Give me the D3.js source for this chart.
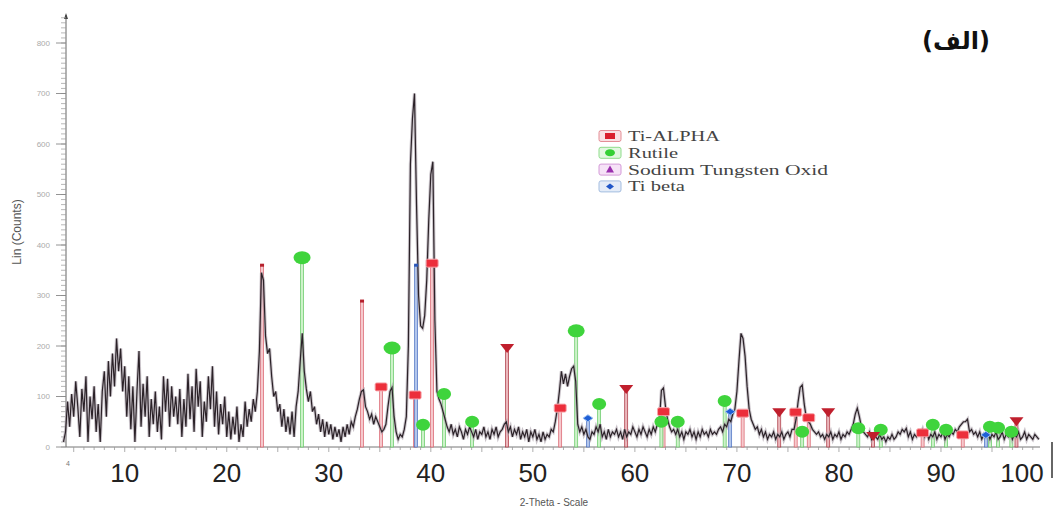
<!DOCTYPE html>
<html>
<head>
<meta charset="utf-8">
<script src="https://cdn.jsdelivr.net/npm/d3@7"></script>
<style>
  body { margin: 0; background: #fff; }
  svg { display: block; }
</style>
</head>
<body>
<svg id="chart"></svg>
<script>
// --- data ---
const startAngle = 4;    // 2-theta of first count
const stepAngle = 0.2;   // step between counts

// each row = 2 degrees (10 points), first angle noted on the right
const counts = [
  10, 30, 90, 40, 105, 60, 130, 80, 20, 115,      // 4
  70, 140, 10, 100, 55, 120, 30, 85, 10, 110,     // 6
  150, 60, 170, 100, 185, 120, 215, 150, 195, 110,// 8
  160, 60, 140, 35, 120, 10, 110, 190, 40, 125,   // 10
  60, 140, 20, 95, 45, 110, 30, 80, 15, 140,      // 12
  70, 135, 40, 120, 60, 100, 45, 115, 20, 95,     // 14
  40, 145, 55, 120, 30, 155, 80, 130, 20, 90,     // 16
  50, 140, 75, 160, 40, 110, 25, 85, 45, 100,     // 18
  20, 70, 15, 60, 25, 80, 10, 45, 20, 90,         // 20
  40, 75, 50, 95, 70, 110, 190, 345, 330, 220,    // 22
  185, 195, 140, 100, 110, 70, 85, 40, 75, 30,    // 24
  60, 25, 70, 20, 80, 110, 170, 225, 150, 115,    // 26
  90, 110, 70, 80, 45, 65, 30, 55, 20, 50,        // 28
  25, 45, 15, 40, 20, 35, 10, 40, 20, 45,         // 30
  25, 50, 40, 60, 75, 95, 110, 113, 80, 70,       // 32
  55, 65, 45, 60, 50, 40, 30, 35, 45, 80,         // 34
  110, 118, 60, 30, 15, 25, 20, 35, 60, 200,      // 36
  560, 650, 700, 480, 300, 240, 235, 260, 330, 450,// 38
  540, 565, 250, 110, 95, 85, 70, 55, 40, 30,     // 40
  45, 25, 35, 20, 40, 30, 15, 35, 25, 40,         // 42
  30, 20, 35, 15, 30, 25, 40, 20, 30, 15,         // 44
  35, 25, 40, 20, 30, 35, 45, 50, 30, 40,         // 46
  20, 35, 25, 40, 15, 30, 20, 35, 10, 30,         // 48
  20, 35, 15, 25, 10, 30, 15, 25, 20, 35,         // 50
  30, 50, 75, 110, 150, 125, 145, 120, 140, 155,  // 52
  160, 130, 45, 30, 40, 25, 35, 20, 15, 30,       // 54
  25, 40, 30, 45, 20, 30, 15, 35, 20, 30,         // 56
  25, 35, 20, 30, 15, 35, 20, 30, 25, 40,         // 58
  30, 20, 35, 25, 40, 30, 20, 35, 25, 40,         // 60
  30, 45, 50, 112, 117, 80, 55, 40, 30, 35,       // 62
  25, 35, 20, 30, 15, 30, 25, 35, 20, 30,         // 64
  15, 30, 20, 35, 25, 30, 20, 35, 25, 30,         // 66
  25, 35, 40, 30, 45, 40, 55, 50, 65, 75,         // 68
  110, 170, 225, 215, 180, 120, 75, 55, 45, 35,   // 70
  40, 25, 35, 20, 30, 15, 25, 20, 30, 15,         // 72
  25, 20, 30, 15, 25, 30, 20, 35, 35, 55,         // 74
  90, 118, 123, 85, 58, 50, 45, 35, 30, 25,       // 76
  30, 20, 25, 15, 25, 20, 30, 15, 25, 20,         // 78
  30, 15, 25, 20, 30, 25, 35, 45, 65, 77,         // 80
  60, 40, 30, 25, 20, 30, 15, 25, 20, 15,         // 82
  25, 15, 20, 10, 20, 15, 25, 15, 20, 30,         // 84
  25, 35, 30, 37, 20, 30, 15, 25, 20, 30,         // 86
  25, 35, 20, 30, 15, 25, 20, 30, 15, 25,         // 88
  20, 30, 15, 25, 20, 30, 25, 35, 30, 40,         // 90
  45, 50, 50, 55, 30, 35, 25, 30, 20, 30,         // 92
  15, 25, 20, 30, 15, 25, 20, 30, 15, 20,         // 94
  30, 15, 25, 20, 30, 15, 25, 20, 30, 15,         // 96
  20, 30, 15, 25, 20, 15, 25, 20, 15              // 98
];

// reference lines: [2-theta, height]
const tiAlphaLines = [[35.13, 119], [38.46, 103], [40.13, 364], [52.68, 77], [62.81, 70],
  [70.56, 67], [75.76, 69], [77.04, 58], [88.2, 28], [92.13, 24]];
const rutileLines = [[27.38, 375], [36.2, 196], [39.24, 44], [41.3, 105], [44.05, 50],
  [54.25, 230], [56.5, 85], [62.6, 50], [64.2, 50], [68.8, 91], [76.4, 30], [81.9, 37],
  [84.1, 34], [89.2, 44], [90.5, 34], [94.8, 40], [95.6, 38], [96.9, 30]];
const sodiumLines = [[47.48, 196], [59.15, 115], [74.15, 69], [78.95, 69], [83.35, 22], [97.4, 51]];
const tiBetaLines = [[55.4, 57], [69.34, 70], [94.4, 24]];
const capLines = [[23.46, 360, "red"], [33.26, 289, "red"], [38.56, 360, "blue"]];

const yTicks = [0, 100, 200, 300, 400, 500, 600, 700, 800];
const xBigLabels = [10, 20, 30, 40, 50, 60, 70, 80, 90, 100];
const legendLabels = ["Ti-ALPHA", "Rutile", "Sodium Tungsten Oxid", "Ti beta"];

// --- setup ---
const svgWidth = 1056;
const svgHeight = 511;
const svg = d3.select("#chart")
  .attr("width", svgWidth)
  .attr("height", svgHeight);

const x = d3.scaleLinear().domain([4, 100]).range([63.5, 1043]);
const y = d3.scaleLinear().domain([0, 800]).range([447, 43]);

const profile = counts.map((c, i) => [startAngle + i * stepAngle, c]);

// y axis (with minor ticks every 10)
const yAxis = svg.append("g").attr("transform", "translate(66,0)");
yAxis.append("line")
  .attr("x1", 0).attr("x2", 0)
  .attr("y1", y(0)).attr("y2", 15)
  .attr("stroke", "#666").attr("stroke-width", 1);
yAxis.append("path")
  .attr("d", "M-2,19 L0,13 L2,19 Z")
  .attr("fill", "#444");
yAxis.selectAll(".minor")
  .data(d3.range(0, 860, 10))
  .enter().append("line")
  .attr("x1", -5).attr("x2", 0)
  .attr("y1", d => y(d)).attr("y2", d => y(d))
  .attr("stroke", "#999").attr("stroke-width", 0.7);
yAxis.selectAll(".major")
  .data(yTicks)
  .enter().append("line")
  .attr("x1", -10).attr("x2", 0)
  .attr("y1", d => y(d)).attr("y2", d => y(d))
  .attr("stroke", "#888").attr("stroke-width", 0.9);
yAxis.selectAll(".ylab")
  .data(yTicks)
  .enter().append("text")
  .attr("x", -16)
  .attr("y", d => y(d))
  .attr("dy", "0.35em")
  .attr("text-anchor", "end")
  .attr("font-family", "Liberation Sans, Arial, sans-serif")
  .attr("font-size", 8)
  .attr("fill", "#aaa")
  .text(d => d);

svg.append("text")
  .attr("transform", "translate(21,232) rotate(-90)")
  .attr("text-anchor", "middle")
  .attr("font-family", "Liberation Sans, Arial, sans-serif")
  .attr("font-size", 12)
  .attr("fill", "#555")
  .text("Lin (Counts)");

// x axis
const xAxis = svg.append("g");
xAxis.append("line")
  .attr("x1", 66).attr("x2", 1040)
  .attr("y1", y(0)).attr("y2", y(0))
  .attr("stroke", "#777").attr("stroke-width", 1);
xAxis.selectAll(".xminor")
  .data(d3.range(5, 100, 1))
  .enter().append("line")
  .attr("x1", d => x(d)).attr("x2", d => x(d))
  .attr("y1", y(0)).attr("y2", d => y(0) + (d % 5 === 0 ? 5 : 3))
  .attr("stroke", "#999").attr("stroke-width", 0.8);
svg.append("text")
  .attr("x", 68).attr("y", 466)
  .attr("text-anchor", "middle")
  .attr("font-family", "Liberation Sans, Arial, sans-serif")
  .attr("font-size", 7)
  .attr("fill", "#777")
  .text("4");
svg.selectAll(".xbig")
  .data(xBigLabels)
  .enter().append("text")
  .attr("x", d => Math.min(x(d), 1022))
  .attr("y", 482)
  .attr("text-anchor", "middle")
  .attr("font-family", "Liberation Sans, Arial, sans-serif")
  .attr("font-size", 26)
  .attr("fill", "#222")
  .text(d => d);
svg.append("text")
  .attr("x", 554).attr("y", 506)
  .attr("text-anchor", "middle")
  .attr("font-family", "Liberation Sans, Arial, sans-serif")
  .attr("font-size", 10)
  .attr("fill", "#555")
  .text("2-Theta - Scale");
svg.append("line")
  .attr("x1", 1052).attr("x2", 1052)
  .attr("y1", 442).attr("y2", 478)
  .attr("stroke", "#333").attr("stroke-width", 1.5);

// stick colours
const styles = {
  red:   { fill: "#f6c9cd", stroke: "#d9606b" },
  green: { fill: "#cdf2c9", stroke: "#62c862" },
  dark:  { fill: "#ebb7bc", stroke: "#a8323e" },
  blue:  { fill: "#b2c6ec", stroke: "#4a6fc0" }
};

function drawSticks(data, st) {
  svg.append("g").selectAll("rect")
    .data(data)
    .enter().append("rect")
    .attr("x", d => x(d[0]) - 1.5)
    .attr("y", d => y(d[1]))
    .attr("width", 3)
    .attr("height", d => y(0) - y(d[1]))
    .attr("fill", st.fill)
    .attr("stroke", st.stroke)
    .attr("stroke-width", 0.7);
}
drawSticks(tiAlphaLines, styles.red);
drawSticks(rutileLines, styles.green);
drawSticks(sodiumLines, styles.dark);
drawSticks(tiBetaLines, styles.blue);
drawSticks(capLines.filter(d => d[2] === "red"), styles.red);
drawSticks(capLines.filter(d => d[2] === "blue"), styles.blue);

// diffraction profile
const line = d3.line().x(d => x(d[0])).y(d => y(d[1]));
svg.append("path")
  .datum(profile)
  .attr("d", line)
  .attr("fill", "none")
  .attr("stroke", "#a89fa8")
  .attr("stroke-width", 3.2)
  .attr("stroke-opacity", 0.6);
svg.append("path")
  .datum(profile)
  .attr("d", line)
  .attr("fill", "none")
  .attr("stroke", "#2b2228")
  .attr("stroke-width", 1.2);

// markers on top of sticks
svg.append("g").selectAll("rect")
  .data(tiAlphaLines)
  .enter().append("rect")
  .attr("x", d => x(d[0]) - 6)
  .attr("y", d => y(d[1]) - 4)
  .attr("width", 12).attr("height", 8).attr("rx", 1.5)
  .attr("fill", "#ec2f3b")
  .attr("stroke", "#f7a5ab").attr("stroke-width", 1);

svg.append("g").selectAll("ellipse")
  .data(rutileLines)
  .enter().append("ellipse")
  .attr("cx", d => x(d[0]))
  .attr("cy", d => y(d[1]))
  .attr("rx", d => d[1] > 150 ? 8.5 : 7)
  .attr("ry", d => d[1] > 150 ? 6.5 : 6)
  .attr("fill", "#3fd43c");

svg.append("g").selectAll("path")
  .data(sodiumLines)
  .enter().append("path")
  .attr("transform", d => `translate(${x(d[0])},${y(d[1])})`)
  .attr("d", "M-7,-4 L7,-4 L0,5 Z")
  .attr("fill", "#c01f2d");

svg.append("g").selectAll("path")
  .data(tiBetaLines)
  .enter().append("path")
  .attr("transform", d => `translate(${x(d[0])},${y(d[1])})`)
  .attr("d", "M-5,0 L0,-3.5 L5,0 L0,3.5 Z")
  .attr("fill", "#1f5fd6")
  .attr("stroke", "#9fc0f0").attr("stroke-width", 1);

svg.append("g").selectAll("rect")
  .data(capLines)
  .enter().append("rect")
  .attr("x", d => x(d[0]) - 2)
  .attr("y", d => y(d[1]) - 1.5)
  .attr("width", 4).attr("height", 3)
  .attr("fill", d => d[2] === "red" ? "#b5202c" : "#2a56b8");

// legend
const legendColors = [
  { box: "#f9e1e3", edge: "#e48e96", mark: "#d91f2c" },
  { box: "#e2f8e0", edge: "#8fdc8b", mark: "#35cf35" },
  { box: "#f6e2f7", edge: "#d49ad8", mark: "#9a2fae" },
  { box: "#e4ecf8", edge: "#a4bde0", mark: "#1f56c8" }
];
const legend = svg.append("g").attr("transform", "translate(599,136)");
const rows = legend.selectAll("g")
  .data(legendLabels)
  .enter().append("g")
  .attr("transform", (d, i) => `translate(0, ${i * 16.8})`);
rows.append("rect")
  .attr("x", 0).attr("y", -5.5)
  .attr("width", 22).attr("height", 11).attr("rx", 2)
  .attr("fill", (d, i) => legendColors[i].box)
  .attr("stroke", (d, i) => legendColors[i].edge)
  .attr("stroke-width", 1);
rows.append("path")
  .attr("transform", "translate(11,0)")
  .attr("d", (d, i) => [
    "M-5,-3 L5,-3 L5,3 L-5,3 Z",
    "M-5,0 A5,3.5 0 1,0 5,0 A5,3.5 0 1,0 -5,0 Z",
    "M-4,3 L0,-4 L4,3 Z",
    "M-4,0 L0,-3 L4,0 L0,3 Z"
  ][i])
  .attr("fill", (d, i) => legendColors[i].mark);
const legendWidths = [92, 50, 200, 57];
rows.append("text")
  .attr("x", 29)
  .attr("y", 5)
  .attr("font-family", "Liberation Serif, Times New Roman, serif")
  .attr("font-size", 14)
  .attr("fill", "#444")
  .attr("textLength", (d, i) => legendWidths[i])
  .attr("lengthAdjust", "spacingAndGlyphs")
  .text(d => d);

// panel label
svg.append("text")
  .attr("x", 956).attr("y", 49)
  .attr("text-anchor", "middle")
  .attr("font-family", "DejaVu Sans, sans-serif")
  .attr("font-weight", "bold")
  .attr("font-size", 24)
  .attr("fill", "#111")
  .text("(الف)");
</script>
</body>
</html>
